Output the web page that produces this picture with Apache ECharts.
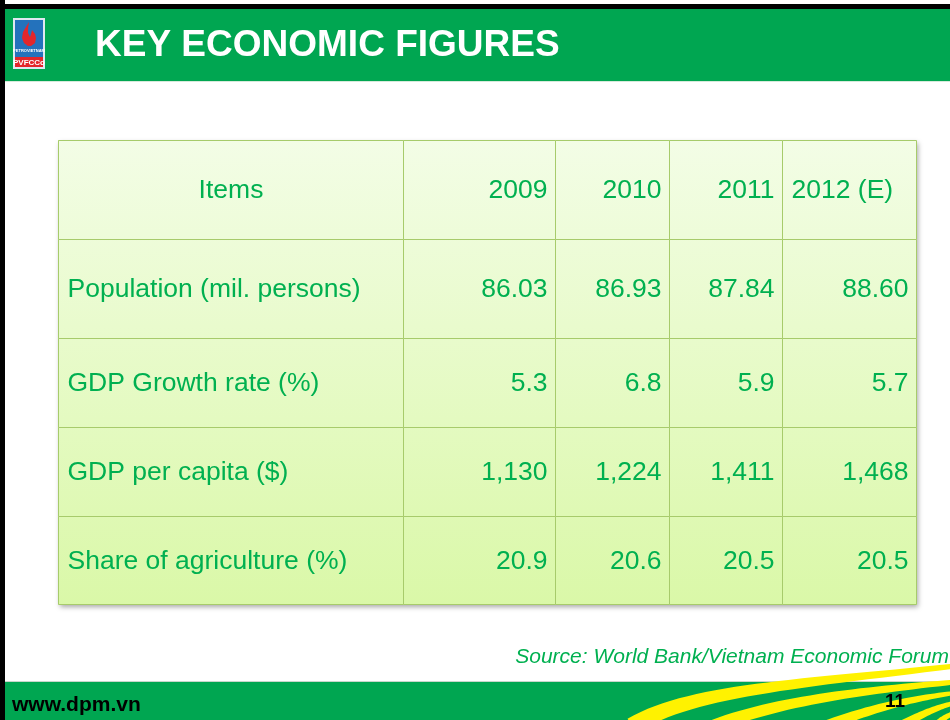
<!DOCTYPE html>
<html>
<head>
<meta charset="utf-8">
<script src="https://cdn.jsdelivr.net/npm/echarts@6/dist/echarts.min.js"></script>
<style>html,body{margin:0;padding:0;background:#fff}#c{width:950px;height:720px}</style>
</head>
<body>
<div id="c"></div>
<script>
// ---- data ----
const columns = ['Items', '2009', '2010', '2011', '2012 (E)'];
const items = ['Population (mil. persons)', 'GDP Growth rate (%)', 'GDP per capita ($)', 'Share of agriculture (%)'];
const v2009 = [86.03, 5.3, 1130, 20.9];
const v2010 = [86.93, 6.8, 1224, 20.6];
const v2011 = [87.84, 5.9, 1411, 20.5];
const v2012 = [88.60, 5.7, 1468, 20.5];
const title = 'KEY ECONOMIC FIGURES';
const source = 'Source: World Bank/Vietnam Economic Forum';
const website = 'www.dpm.vn';
const pageNo = '11';

// ---- layout / style ----
const colW = [345, 152, 114, 113, 134];
const rowH = [99, 99, 89, 89, 88];
const decimals = [2, 1, 0, 1];
const GREEN = '#00A651';
const TXT = '#00B050';
const FONT = '"Liberation Sans", Arial, sans-serif';
const T = {left: 58, top: 140};
const colStart = [0]; colW.forEach(w => colStart.push(colStart[colStart.length - 1] + w));
const rowStart = [0]; rowH.forEach(h => rowStart.push(rowStart[rowStart.length - 1] + h));
const TW = colStart[colStart.length - 1], TH = rowStart[rowStart.length - 1];

const years = [v2009, v2010, v2011, v2012];
const cells = [];
columns.forEach((c, i) => cells.push({col: i, row: 0, text: c, align: i === 0 ? 'center' : (i === columns.length - 1 ? 'left' : 'right')}));
items.forEach((it, r) => {
  cells.push({col: 0, row: r + 1, text: it, align: 'left'});
  years.forEach((arr, k) => {
    const d = decimals[r];
    cells.push({col: k + 1, row: r + 1, align: 'right',
      text: arr[r].toLocaleString('en-US', {minimumFractionDigits: d, maximumFractionDigits: d})});
  });
});

const fillGrad = {type: 'linear', x: 0, y: T.top, x2: 0, y2: T.top + TH, global: true,
  colorStops: [{offset: 0, color: '#F3FDE6'}, {offset: 1, color: '#DAF8A8'}]};

const flame = [[29,22],[26,27],[23,32],[22,38],[24,43],[28,46],[31,46],[35,43],[36,38],[35,34],[32,30],[31,34],[30,37],[28,33],[28,28]];

// decorative tapered swoosh band (footer ornament)
function band(p0, c1, c2, p1, w0, w1) {
  const top = [], bot = [];
  const N = 30;
  for (let i = 0; i <= N; i++) {
    const t = i / N, u = 1 - t;
    const x = u*u*u*p0[0] + 3*u*u*t*c1[0] + 3*u*t*t*c2[0] + t*t*t*p1[0];
    const y = u*u*u*p0[1] + 3*u*u*t*c1[1] + 3*u*t*t*c2[1] + t*t*t*p1[1];
    const dx = 3*u*u*(c1[0]-p0[0]) + 6*u*t*(c2[0]-c1[0]) + 3*t*t*(p1[0]-c2[0]);
    const dy = 3*u*u*(c1[1]-p0[1]) + 6*u*t*(c2[1]-c1[1]) + 3*t*t*(p1[1]-c2[1]);
    const L = Math.hypot(dx, dy) || 1;
    const w = (w0 + (w1 - w0) * t) / 2;
    top.push([x + dy / L * w, y - dx / L * w]);
    bot.push([x - dy / L * w, y + dx / L * w]);
  }
  return {type: 'polygon', z: 5, shape: {points: top.concat(bot.reverse())}, style: {fill: '#FFF200'}};
}

const chart = echarts.init(document.getElementById('c'), null, {renderer: 'canvas'});
chart.setOption({
  animation: false,
  backgroundColor: '#ffffff',
  grid: {left: T.left, top: T.top, width: TW, height: TH, containLabel: false},
  xAxis: {type: 'value', min: 0, max: TW, show: false},
  yAxis: {type: 'value', min: 0, max: TH, inverse: true, show: false},
  graphic: [
    // black slide edge
    {type: 'rect', shape: {x: 0, y: 4, width: 950, height: 5}, style: {fill: '#000'}},
    {type: 'rect', shape: {x: 0, y: 0, width: 5, height: 720}, style: {fill: '#000'}},
    // header band
    {type: 'rect', shape: {x: 5, y: 9, width: 945, height: 72}, style: {fill: GREEN}},
    {type: 'rect', shape: {x: 5, y: 81, width: 945, height: 1}, style: {fill: '#d6eadb'}},
    // logo
    {type: 'rect', shape: {x: 13, y: 18, width: 32, height: 51}, style: {fill: '#dfe8f1'}},
    {type: 'rect', shape: {x: 15, y: 20, width: 28, height: 37}, style: {fill: '#2472BC'}},
    {type: 'polygon', shape: {points: flame}, style: {fill: '#E3262B'}},
    {type: 'text', style: {text: 'PETROVIETNAM', x: 29, y: 51, font: 'bold 4px ' + FONT, fill: '#fff', align: 'center', verticalAlign: 'middle'}},
    {type: 'rect', shape: {x: 15, y: 57, width: 28, height: 10}, style: {fill: '#E3262B'}},
    {type: 'text', style: {text: 'PVFCCo', x: 29, y: 62.5, font: 'bold 8px ' + FONT, fill: '#fff', align: 'center', verticalAlign: 'middle'}},
    // title
    {type: 'text', style: {text: title, x: 95, y: 46, font: 'bold 37px ' + FONT, fill: '#fff', align: 'left', verticalAlign: 'middle'}},
    // table shadow / background
    {type: 'rect', shape: {x: T.left, y: T.top, width: TW, height: TH},
      style: {fill: '#DDF8B0', shadowBlur: 5, shadowOffsetX: 2, shadowOffsetY: 3, shadowColor: 'rgba(0,0,0,0.35)'}},
    // source
    {type: 'text', style: {text: source, x: 949, y: 657, font: 'italic 21px ' + FONT, fill: TXT, align: 'right', verticalAlign: 'middle'}},
    // footer
    {type: 'rect', shape: {x: 5, y: 681, width: 945, height: 1}, style: {fill: '#c9d6cb'}},
    {type: 'rect', shape: {x: 5, y: 682, width: 945, height: 38}, style: {fill: GREEN}},
    band([632, 726], [690, 690], [800, 684], [955, 666], 17, 5),
    band([714, 726], [780, 700], [870, 690], [955, 682], 13, 5),
    band([826, 726], [872, 708], [915, 698], [955, 693], 11, 4),
    band([900, 726], [922, 714], [940, 706], [955, 703], 9, 4),
    band([935, 726], [942, 719], [948, 715], [955, 713], 7, 4),
    {type: 'text', z: 10, style: {text: website, x: 12, y: 705, font: 'bold 21px ' + FONT, fill: '#000', align: 'left', verticalAlign: 'middle'}},
    {type: 'text', z: 10, style: {text: pageNo, x: 895, y: 702, font: 'bold 19px ' + FONT, fill: '#000', align: 'center', verticalAlign: 'middle'}}
  ],
  series: [{
    type: 'custom',
    coordinateSystem: 'cartesian2d',
    data: cells.map(c => [c.col, c.row]),
    encode: {x: 0, y: 1},
    renderItem: function (params, api) {
      const c = cells[params.dataIndex];
      const p0 = api.coord([colStart[c.col], rowStart[c.row]]);
      const p1 = api.coord([colStart[c.col + 1], rowStart[c.row + 1]]);
      const x0 = Math.round(p0[0]) + 0.5, y0 = Math.round(p0[1]) + 0.5;
      const x1 = Math.round(p1[0]) + 0.5, y1 = Math.round(p1[1]) + 0.5;
      let tx = c.align === 'left' ? x0 + 9 : (c.align === 'right' ? x1 - 8 : (x0 + x1) / 2);
      return {
        type: 'group',
        children: [
          {type: 'rect', shape: {x: x0, y: y0, width: x1 - x0, height: y1 - y0},
            style: {fill: fillGrad, stroke: '#A7CB6B', lineWidth: 1}},
          {type: 'text', style: {text: c.text, x: tx, y: (y0 + y1) / 2 + 1,
            font: '26.5px ' + FONT, fill: TXT, align: c.align, verticalAlign: 'middle',
            textAlign: c.align, textVerticalAlign: 'middle'}}
        ]
      };
    }
  }]
});
</script>
</body>
</html>
